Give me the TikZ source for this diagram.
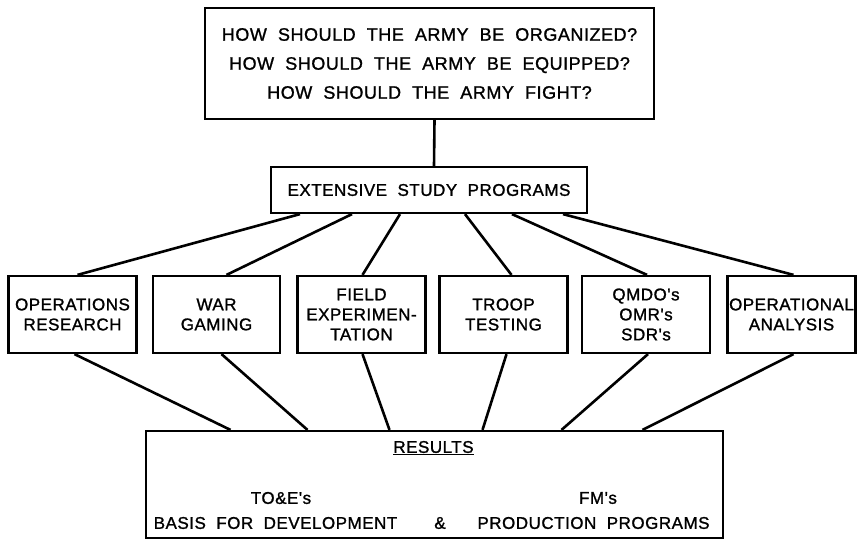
\documentclass[tikz,border=0pt]{standalone}
\usepackage{fontspec}
\newfontfamily\lettering[LetterSpace=3,WordSpace=2,FakeBold=1.2]{Liberation Sans}
\usetikzlibrary{positioning}

\begin{document}
\begin{tikzpicture}[
  x=1pt, y=-1pt,
  panel/.style={rectangle, draw, line width=2.2pt, align=center, inner sep=0pt,
                font=\lettering\fontsize{17}{20}\selectfont},
  method/.style={panel, minimum width=128pt, minimum height=77pt},
  restext/.style={font=\lettering\fontsize{17}{20}\selectfont, inner sep=0pt},
  link/.style={line width=2.6pt}
]
  \useasboundingbox (0,0) rectangle (859,541);
  % question and study programs
  \node[panel, minimum width=449pt, minimum height=111pt,
        font=\lettering\fontsize{18}{29}\selectfont] (q) at (429.5,63.5)
    {HOW SHOULD THE ARMY BE ORGANIZED?\\HOW SHOULD THE ARMY BE EQUIPPED?\\HOW SHOULD THE ARMY FIGHT?};
  \node[panel, minimum width=316pt, minimum height=46pt] (study) at (429,190) {EXTENSIVE STUDY PROGRAMS};
  % the six methods
  \node[method] (opres) at (72.5,314.5) {OPERATIONS\\RESEARCH};
  \node[method, minimum width=127pt] (wargame) at (216.5,314.5) {WAR\\GAMING};
  \node[method] (fieldexp) at (361.5,314.5) {FIELD\\EXPERIMEN-\\TATION};
  \node[method] (troop) at (503.5,314.5) {TROOP\\TESTING};
  \node[method] (qmdo) at (646,314.5) {QMDO's\\OMR's\\SDR's};
  \node[method] (opanal) at (791.5,314.5) {OPERATIONAL\\ANALYSIS};
  % results
  \node[panel, minimum width=577pt, minimum height=107pt] (res) at (434.5,484.5) {};
  \node[restext] (reshead) at (433.5,448) {\underline{RESULTS}};
  \node[restext] (toe) at (281,498) {TO\&E's};
  \node[restext] (basis) at (275.5,523) {BASIS FOR DEVELOPMENT};
  \node[restext] (amp) at (440,523) {\&};
  \node[restext] (fm) at (598,498) {FM's};
  \node[restext] (prod) at (593.5,523) {PRODUCTION PROGRAMS};

  \draw[link] ([xshift=5pt]q.south) -- ([xshift=5pt]study.north);
  \draw[link] ([xshift=-129pt]study.south) -- ([xshift=5pt]opres.north);
  \draw[link] ([xshift=-77pt]study.south) -- ([xshift=10pt]wargame.north);
  \draw[link] ([xshift=-29pt]study.south) -- ([xshift=1pt]fieldexp.north);
  \draw[link] ([xshift=36pt]study.south) -- ([xshift=8pt]troop.north);
  \draw[link] ([xshift=83pt]study.south) -- ([xshift=1pt]qmdo.north);
  \draw[link] ([xshift=134pt]study.south) -- ([xshift=2pt]opanal.north);
  \draw[link] ([xshift=2pt]opres.south) -- ([xshift=-204pt]res.north);
  \draw[link] ([xshift=5pt]wargame.south) -- ([xshift=-127pt]res.north);
  \draw[link] ([xshift=1pt]fieldexp.south) -- ([xshift=-45pt]res.north);
  \draw[link] ([xshift=3pt]troop.south) -- ([xshift=48pt]res.north);
  \draw[link] ([xshift=2pt]qmdo.south) -- ([xshift=127pt]res.north);
  \draw[link] ([xshift=2pt]opanal.south) -- ([xshift=208pt]res.north);
\end{tikzpicture}
\end{document}
